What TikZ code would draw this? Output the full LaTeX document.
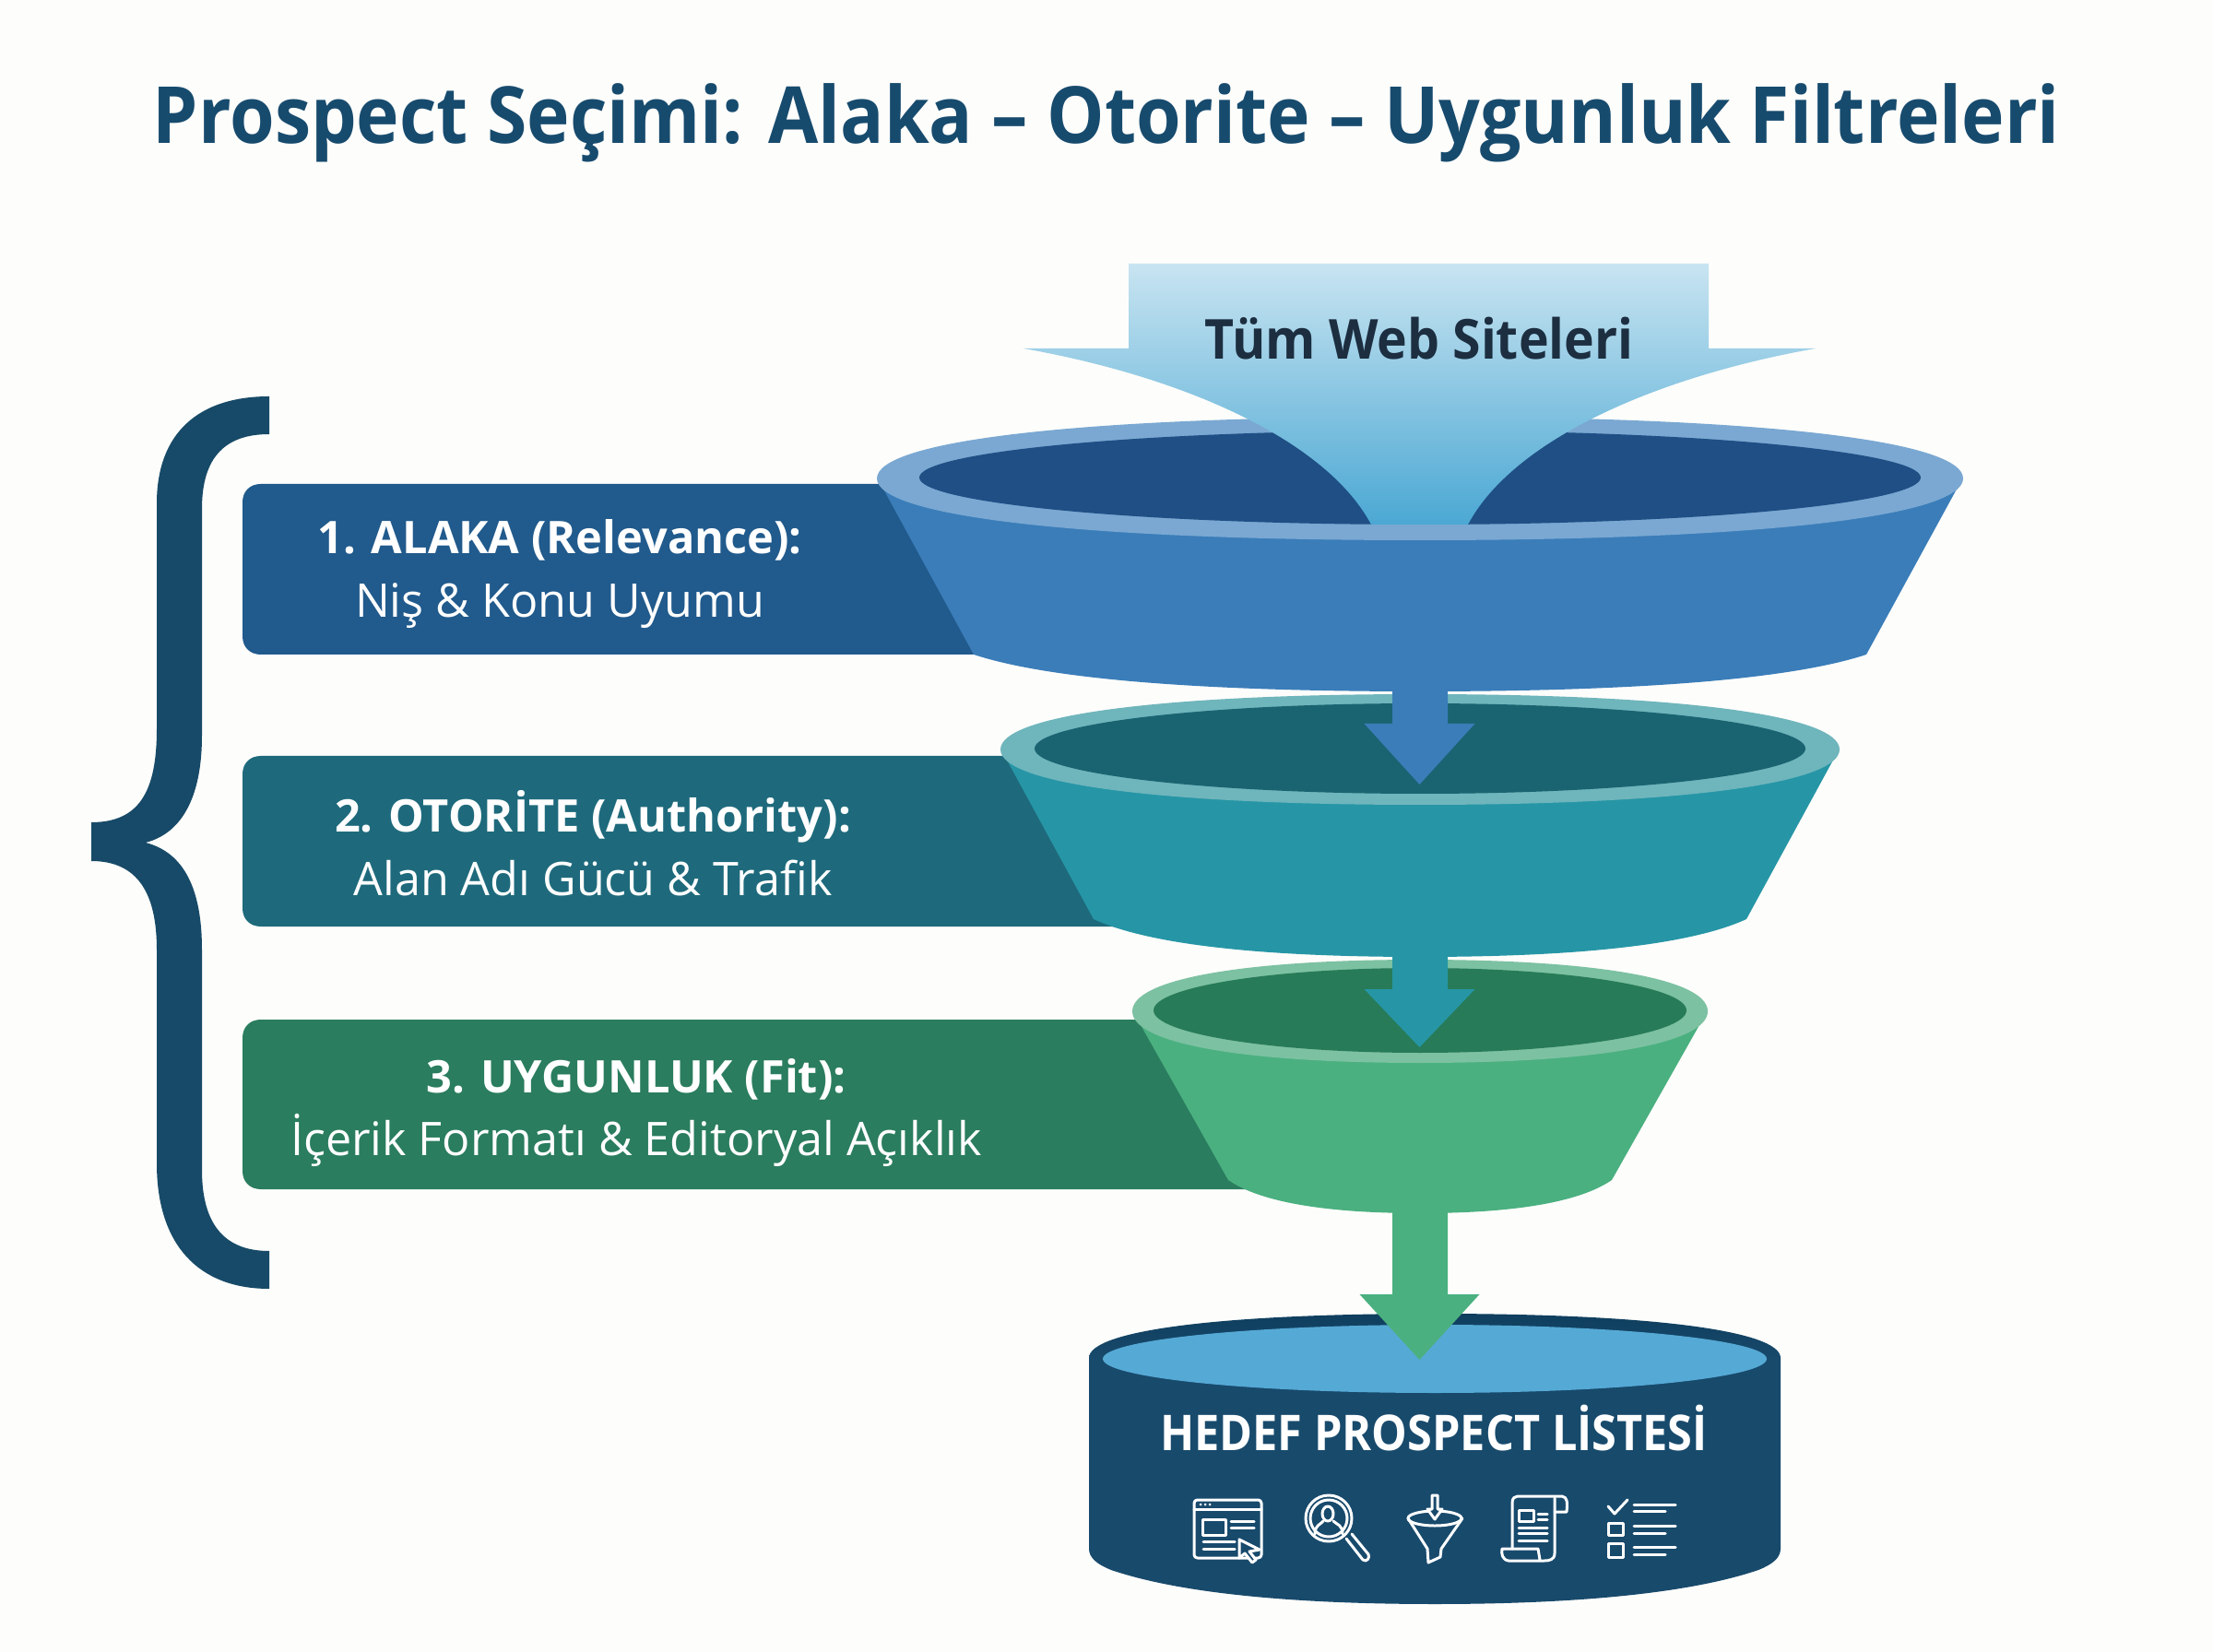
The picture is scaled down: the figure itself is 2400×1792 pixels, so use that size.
\documentclass[tikz,border=0pt]{standalone}
\usepackage{fontspec}
\setmainfont{Open Sans}
\newfontfamily\titlefont[FakeStretch=0.92]{Open Sans}
\newfontfamily\srcfont[FakeStretch=0.926]{Open Sans}
\newfontfamily\dstfont[FakeStretch=0.91]{Open Sans}
\definecolor{bgc}{HTML}{FDFDFB}
\definecolor{navy}{HTML}{174B6E}
\definecolor{bracec}{HTML}{174A68}
\definecolor{ink}{HTML}{1C2E40}
\definecolor{boxa}{HTML}{215A8C}
\definecolor{boxb}{HTML}{1E6A7C}
\definecolor{boxc}{HTML}{2A7D5E}
\definecolor{rima}{HTML}{7AA8D2}
\definecolor{inna}{HTML}{1F4F85}
\definecolor{bodya}{HTML}{3A7DB9}
\definecolor{rimb}{HTML}{6FB5BC}
\definecolor{innb}{HTML}{1A6472}
\definecolor{bodyb}{HTML}{2696A6}
\definecolor{rimc}{HTML}{7CC1A2}
\definecolor{innc}{HTML}{287B58}
\definecolor{bodyc}{HTML}{4AB080}
\definecolor{cyl}{HTML}{184A6C}
\definecolor{cylrim}{HTML}{0F3E5E}
\definecolor{cyltop}{HTML}{55A9D5}
\definecolor{arrtop}{HTML}{C8E4F1}
\definecolor{arrbot}{HTML}{4BA8D3}
\newcommand{\pxfont}[2]{\fontsize{#1}{#2}\selectfont}
\newcommand{\lblhead}[1]{{\fontsize{13.85pt}{19.6pt}\selectfont\bfseries #1}}
% rounded (slightly super-elliptic) disc: options, cx, cy, rx, ry
\newcommand{\disc}[5]{%
 \path[#1] ({#2-#4},#3) .. controls ({#2-#4},{#3-0.62*#5}) and ({#2-0.62*#4},{#3-#5}) .. (#2,{#3-#5})
  .. controls ({#2+0.62*#4},{#3-#5}) and ({#2+#4},{#3-0.62*#5}) .. ({#2+#4},#3)
  .. controls ({#2+#4},{#3+0.62*#5}) and ({#2+0.62*#4},{#3+#5}) .. (#2,{#3+#5})
  .. controls ({#2-0.62*#4},{#3+#5}) and ({#2-#4},{#3+0.62*#5}) .. ({#2-#4},#3) -- cycle;
}
\newcommand{\funnelshape}[9]{%
 % cy, rx, ry, irx, iry, lowhalf, lowy, lowbottom ; colours via suffix #9
 \fill[body#9] ({1540-#2+4},{#1+6}) -- ({1540-#6},#7)
   .. controls ({1540-0.82*#6},{#7+0.72*(#8-#7)}) and ({1540-0.45*#6},#8) .. (1540,#8)
   .. controls ({1540+0.45*#6},#8) and ({1540+0.82*#6},{#7+0.72*(#8-#7)}) .. ({1540+#6},#7)
   -- ({1540+#2-4},{#1+6}) -- cycle;
 \disc{fill=rim#9}{1540}{#1}{#2}{#3}
 \fill[inn#9] (1540,{#1-1}) ellipse[x radius=#4,y radius=#5];
}
\newcommand{\stemarrow}[5]{%
 % colour, stem top, head y, tip y, head half width
 \fill[#1] (1510,#2) -- (1510,#3) -- ({1539.5-#5},#3) -- (1539.5,#4) -- ({1539.5+#5},#3) -- (1570,#3) -- (1570,#2) -- cycle;
}
\newcommand{\filterbar}[4]{%
 % colour, top, bottom, right end: rounded on the left only
 \fill[#1] (#4,#2) -- (283,#2) .. controls (271,#2) and (263,{#2+8}) .. (263,{#2+20}) -- (263,{#3-20})
   .. controls (263,{#3-8}) and (271,#3) .. (283,#3) -- (#4,#3) -- cycle;
}
\tikzset{
 lbl/.style={text=white,align=center,inner sep=0pt,font=\pxfont{14.3pt}{19.6pt}},
 icon/.style={draw=white,line width=0.85pt,line join=round,line cap=round},
 iconfill/.style={icon,fill=cyl}
}
\begin{document}
\begin{tikzpicture}[x=0.01cm,y=-0.01cm]
\useasboundingbox (0,0) rectangle (2400,1792);
\fill[bgc] (0,0) rectangle (2400,1792);
% title
\node[anchor=base,inner sep=0pt,text=navy,font=\titlefont\pxfont{24.3pt}{30pt}\bfseries] (title) at (1200,156) {Prospect Seçimi: Alaka – Otorite – Uygunluk Filtreleri};
% brace
\fill[bracec] (292,430) .. controls (215,430) and (170,470) .. (170,546) -- (170,791)
 .. controls (170,860) and (150,892) .. (99,892) -- (99,934)
 .. controls (150,934) and (170,970) .. (170,1030) -- (170,1262)
 .. controls (170,1350) and (215,1398) .. (292,1398) -- (292,1357)
 .. controls (245,1357) and (219,1330) .. (219,1269) -- (219,1030)
 .. controls (219,965) and (200,925) .. (158,914)
 .. controls (200,903) and (219,860) .. (219,798) -- (219,552)
 .. controls (219,495) and (245,471) .. (292,471) -- cycle;
% bars
\filterbar{boxa}{525}{710}{1120}
\filterbar{boxb}{820}{1005}{1215}
\filterbar{boxc}{1106}{1290}{1355}
% funnels
\funnelshape{1097}{312}{56}{289}{46}{208}{1280}{1316}{c}
\funnelshape{813}{455}{60}{418}{49}{354}{997}{1038}{b}
\funnelshape{519}{589}{67}{543}{51}{484}{710}{750}{a}
% stems
\stemarrow{bodya}{745}{785}{851}{60}
\stemarrow{bodyb}{1032}{1073}{1136}{60}
% cylinder
\fill[cyl] (1181,1473) -- (1181,1680) .. controls (1181,1690) and (1190,1697) .. (1205,1703)
 .. controls (1290,1732) and (1430,1740) .. (1556,1740) .. controls (1682,1740) and (1822,1732) .. (1907,1703)
 .. controls (1922,1697) and (1931,1690) .. (1931,1680) -- (1931,1473) -- cycle;
\disc{top color=cylrim,bottom color=cyl,middle color=cyl}{1556}{1473}{375}{48}
\fill[cyltop] (1556,1474) ellipse[x radius=360,y radius=37];
\stemarrow{bodyc}{1312}{1404}{1475}{65}
% top arrow
\shade[top color=arrtop,bottom color=arrbot] (1224,286) -- (1853,286) -- (1853,378) -- (1969,378)
 .. controls (1789,410) and (1639,480) .. (1592,569) -- (1487,569)
 .. controls (1440,480) and (1290,410) .. (1110,378) -- (1224,378) -- cycle;
\node[anchor=base,inner sep=0pt,text=ink,font=\srcfont\pxfont{17pt}{20pt}\bfseries] (src) at (1539,390) {Tüm Web Siteleri};
% labels
\node[lbl] (la) at (607,623) {\lblhead{1. ALAKA (Relevance):}\\Niş \& Konu Uyumu};
\node[lbl] (lb) at (643,915) {\lblhead{2. OTORİTE (Authority):}\\Alan Adı Gücü \& Trafik};
\node[lbl] (lc) at (690,1207) {\lblhead{3. UYGUNLUK (Fit):}\\İçerik Formatı \& Editoryal Açıklık};
\node[anchor=base,inner sep=0pt,text=white,font=\dstfont\pxfont{15.2pt}{18pt}\bfseries] (dst) at (1555,1573) {HEDEF PROSPECT LİSTESİ};
% icon 1 browser
\draw[icon,rounded corners=1pt] (1295,1627) rectangle (1368,1690);
\draw[icon] (1295,1637) -- (1368,1637);
\fill[white] (1302,1632) circle[radius=1.5] (1307,1632) circle[radius=1.5] (1312,1632) circle[radius=1.5];
\draw[icon] (1304,1648) rectangle (1329,1665);
\draw[icon] (1335,1650) -- (1360,1650) (1335,1657) -- (1360,1657) (1305,1672) -- (1339,1672) (1305,1680) -- (1339,1680);
\draw[iconfill] (1344,1670) -- (1344,1690) -- (1350,1685) -- (1358,1695) -- (1362,1692) -- (1355,1683) -- (1366,1681) -- cycle;
% icon 2 magnifier
\draw[icon] (1441,1647) circle[radius=25] (1441,1647) circle[radius=20];
\draw[icon] (1440,1642) ellipse[x radius=6,y radius=8];
\draw[icon] (1426,1664) .. controls (1426,1654) and (1432,1654) .. (1435,1650) (1456,1664) .. controls (1456,1654) and (1450,1654) .. (1446,1650);
\draw[icon] (1460,1669) -- (1478,1692) .. controls (1482,1695) and (1486,1690) .. (1484,1686) -- (1466,1664);
% icon 3 funnel
\draw[icon] (1527,1647) -- (1548,1680) -- (1549,1695) -- (1562,1689) -- (1563,1680) -- (1586,1647);
\draw[icon] (1556,1647) ellipse[x radius=29,y radius=8];
\draw[iconfill] (1553,1622) -- (1553,1637) -- (1548,1637) -- (1556,1648) -- (1564,1637) -- (1559,1637) -- (1559,1622) -- cycle;
% icon 4 scroll
\draw[icon] (1640,1680) -- (1640,1630) .. controls (1640,1625) and (1643,1623) .. (1646,1623) -- (1694,1623) .. controls (1700,1624) and (1700,1630) .. (1699,1640) -- (1686,1640);
\draw[icon] (1686,1625) -- (1686,1685) .. controls (1686,1692) and (1680,1693) .. (1675,1693) -- (1636,1693) .. controls (1629,1692) and (1628,1685) .. (1629,1680) -- (1668,1680) -- (1670,1692);
\draw[icon] (1647,1638) rectangle (1663,1650);
\draw[icon] (1668,1642) -- (1678,1642) (1668,1648) -- (1678,1648) (1647,1657) -- (1678,1657) (1647,1663) -- (1678,1663) (1647,1671) -- (1678,1671);
% icon 5 checklist
\draw[icon] (1744,1634) -- (1751,1642) -- (1765,1627);
\draw[icon] (1772,1632) -- (1817,1632) (1772,1639) -- (1806,1639) (1772,1655) -- (1817,1655) (1772,1663) -- (1806,1663) (1772,1678) -- (1817,1678) (1772,1686) -- (1806,1686);
\draw[icon] (1744,1652) rectangle (1760,1665) (1744,1674) rectangle (1760,1689);
\end{tikzpicture}
\end{document}
